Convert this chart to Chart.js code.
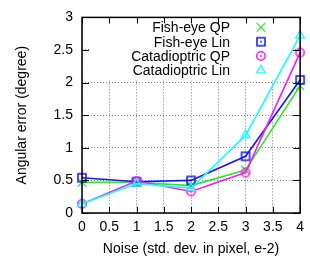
<!DOCTYPE html>
<html>
<head>
<meta charset="utf-8">
<script src="https://cdn.jsdelivr.net/npm/chart.js@4/dist/chart.umd.min.js"></script>
<style>
  html, body { margin: 0; padding: 0; background: #fff; }
  #wrap { width: 310px; height: 262px; }
</style>
</head>
<body>
<div id="wrap"><canvas id="errChart" width="310" height="262"></canvas></div>
<script>
// noise levels (x) and angular errors per method
var noise = [0, 1, 2, 3, 4];
var fishQP = [0.47, 0.47, 0.42, 0.66, 1.95];
var fishLin = [0.54, 0.48, 0.50, 0.87, 2.04];
var cataQP = [0.14, 0.49, 0.33, 0.62, 2.46];
var cataLin = [0.14, 0.45, 0.38, 1.19, 2.72];
var labels = ['Fish-eye QP', 'Fish-eye Lin', 'Catadioptric QP', 'Catadioptric Lin'];
var colors = ['#22ee22', '#1414ff', '#ff14ff', '#14ffff'];

var FONT = '"Liberation Sans", Arial, sans-serif';

function toXY(vals) {
    return noise.map(function (n, i) { return {x: n, y: vals[i]}; });
}

// marker images: box with centre dot, circle with centre dot
function boxDot(color) {
    var c = document.createElement('canvas');
    c.width = 12; c.height = 12;
    var g = c.getContext('2d');
    g.strokeStyle = color; g.lineWidth = 1.5;
    g.strokeRect(2, 2, 8, 8);
    g.fillStyle = color;
    g.fillRect(5.2, 5.2, 1.6, 1.6);
    return c;
}
function circleDot(color) {
    var c = document.createElement('canvas');
    c.width = 12; c.height = 12;
    var g = c.getContext('2d');
    g.strokeStyle = color; g.lineWidth = 1.5;
    g.beginPath(); g.arc(6, 6, 4.2, 0, Math.PI * 2); g.stroke();
    g.fillStyle = color;
    g.beginPath(); g.arc(6, 6, 0.9, 0, Math.PI * 2); g.fill();
    return c;
}

var styles = ['crossRot', boxDot(colors[1]), circleDot(colors[2]), 'triangle'];
var series = [fishQP, fishLin, cataQP, cataLin];

var datasets = series.map(function (vals, i) {
    return {
        label: labels[i],
        data: toXY(vals),
        borderColor: colors[i],
        backgroundColor: 'rgba(0,0,0,0)',
        borderWidth: 1.6,
        pointStyle: styles[i],
        pointRadius: i == 0 ? 6 : 5,
        pointBorderWidth: 1.3,
        pointBorderColor: colors[i],
        pointBackgroundColor: 'rgba(0,0,0,0)',
        tension: 0,
        clip: false,
        order: 4 - i
    };
});

function fmt(v) { return String(Math.round(v * 10) / 10); }

// legend inside plot, gnuplot style
var keyPlugin = {
    id: 'key',
    beforeDatasetsDraw: function (chart) {
        var ctx = chart.ctx, a = chart.chartArea;
        ctx.save();
        ctx.fillStyle = '#fff';
        ctx.fillRect(90, a.top + 1, 200, 62);
        ctx.restore();
    },
    afterDatasetsDraw: function (chart) {
        var ctx = chart.ctx, a = chart.chartArea;
        ctx.save();
        // frame
        ctx.strokeStyle = '#000';
        ctx.lineWidth = 1.5;
        ctx.strokeRect(a.left, a.top, a.right - a.left, a.bottom - a.top);
        // inward ticks on all sides
        ctx.lineWidth = 1;
        var xs = chart.scales.x, ys = chart.scales.y;
        xs.ticks.forEach(function (t) {
            var px = Math.round(xs.getPixelForValue(t.value)) + 0.5;
            ctx.beginPath();
            ctx.moveTo(px, a.bottom); ctx.lineTo(px, a.bottom - 6);
            ctx.moveTo(px, a.top); ctx.lineTo(px, a.top + 6);
            ctx.stroke();
        });
        ys.ticks.forEach(function (t) {
            var py = Math.round(ys.getPixelForValue(t.value)) + 0.5;
            ctx.beginPath();
            ctx.moveTo(a.left, py); ctx.lineTo(a.left + 7, py);
            ctx.moveTo(a.right, py); ctx.lineTo(a.right - 7, py);
            ctx.stroke();
        });
        // key entries
        ctx.font = '14px ' + FONT;
        ctx.textAlign = 'right';
        ctx.textBaseline = 'middle';
        for (var i = 0; i < labels.length; i++) {
            var y = a.top + 10 + i * 14.3;
            ctx.fillStyle = '#000';
            ctx.fillText(labels[i], 230, y + 1);
            var ds = datasets[i];
            ctx.fillStyle = 'rgba(0,0,0,0)';
            ctx.strokeStyle = colors[i];
            ctx.lineWidth = ds.pointBorderWidth;
            Chart.helpers.drawPoint(ctx, {
                pointStyle: ds.pointStyle,
                radius: ds.pointRadius,
                borderWidth: ds.pointBorderWidth,
                rotation: 0
            }, 261, y);
        }
        ctx.restore();
    }
};

var canvas = document.getElementById('errChart');
var ctx = canvas.getContext('2d');
var chart = new Chart(ctx, {
    type: 'line',
    data: {datasets: datasets},
    plugins: [keyPlugin],
    options: {
        responsive: false,
        animation: false,
        devicePixelRatio: 1,
        layout: {padding: {top: 13, right: 5, left: 0, bottom: 0}},
        plugins: {
            legend: {display: false},
            tooltip: {enabled: false}
        },
        scales: {
            x: {
                type: 'linear',
                min: 0, max: 4,
                afterFit: function (s) { s.height = 49; },
                ticks: {stepSize: 0.5, color: '#000', padding: 6, maxRotation: 0,
                    callback: fmt, font: {family: FONT, size: 14}},
                grid: {color: '#7a7a7a', drawTicks: false, tickLength: 0},
                border: {display: false, dash: [1, 2]},
                title: {display: true, text: 'Noise (std. dev. in pixel, e-2)', color: '#000',
                    font: {family: FONT, size: 14}, padding: {top: 0, bottom: 4}}
            },
            y: {
                min: 0, max: 3,
                afterFit: function (s) { s.width = 82; },
                ticks: {stepSize: 0.5, color: '#000', padding: 9,
                    callback: fmt, font: {family: FONT, size: 14}},
                grid: {color: '#7a7a7a', drawTicks: false, tickLength: 0},
                border: {display: false, dash: [1, 2]},
                title: {display: true, text: 'Angular error (degree)', color: '#000',
                    font: {family: FONT, size: 14}, padding: {top: 14, bottom: 0}}
            }
        }
    }
});
</script>
</body>
</html>
